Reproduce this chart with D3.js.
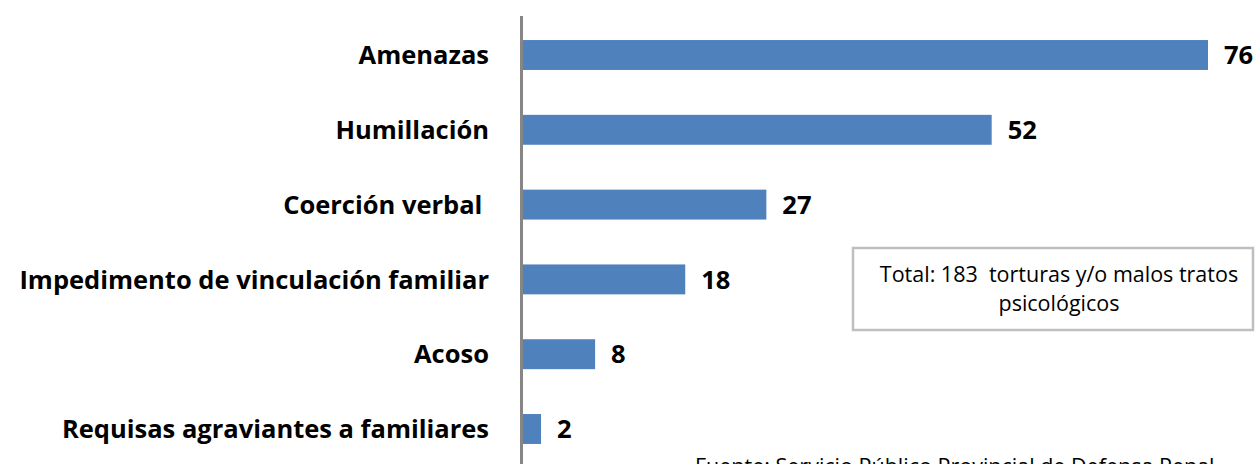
<!DOCTYPE html>
<html>
<head>
<meta charset="utf-8">
<script src="https://cdn.jsdelivr.net/npm/d3@7"></script>
<style>
  body { margin: 0; background: #fff; }
  svg { display: block; font-family: "Open Sans", Lato, sans-serif; }
</style>
</head>
<body>
<div id="chart"></div>
<script>
// data
const categories = ['Amenazas', 'Humillación', 'Coerción verbal ', 'Impedimento de vinculación familiar', 'Acoso', 'Requisas agraviantes a familiares'];
const values = [76, 52, 27, 18, 8, 2];
const totalLines = ['Total: 183  torturas y/o malos tratos', 'psicológicos'];
const sourceText = 'Fuente: Servicio Público Provincial de Defensa Penal';

const W = 1256, H = 464;
const axisX = 523;

const svg = d3.select('#chart').append('svg')
    .attr('width', W)
    .attr('height', H);

const x = d3.scaleLinear()
    .domain([0, 76])
    .range([axisX, 1208]);

const y = d3.scaleBand()
    .domain(categories)
    .range([17.6, 466.4])
    .paddingInner(0.6)
    .paddingOuter(0.3);

// bars
svg.selectAll('rect.bar')
    .data(values)
    .join('rect')
    .attr('class', 'bar')
    .attr('x', x(0))
    .attr('y', (d, i) => y(categories[i]))
    .attr('width', d => x(d) - x(0))
    .attr('height', y.bandwidth())
    .attr('fill', '#4F81BD');

// category labels
svg.selectAll('text.cat')
    .data(categories)
    .join('text')
    .attr('class', 'cat')
    .attr('x', 489)
    .attr('y', d => y(d) + y.bandwidth() / 2)
    .attr('dy', '0.36em')
    .attr('text-anchor', 'end')
    .attr('font-size', 25.5)
    .attr('font-weight', 'bold')
    .attr('fill', '#000')
    .style('white-space', 'pre')
    .text(d => d);

// value labels
svg.selectAll('text.val')
    .data(values)
    .join('text')
    .attr('class', 'val')
    .attr('x', d => x(d) + 16)
    .attr('y', (d, i) => y(categories[i]) + y.bandwidth() / 2)
    .attr('dy', '0.36em')
    .attr('font-size', 25.5)
    .attr('font-weight', 'bold')
    .attr('fill', '#000')
    .text(d => d);

// vertical axis line
svg.append('line')
    .attr('x1', axisX - 1.5).attr('x2', axisX - 1.5)
    .attr('y1', 16).attr('y2', H)
    .attr('stroke', '#868686')
    .attr('stroke-width', 3);

// total box
svg.append('rect')
    .attr('x', 853).attr('y', 248)
    .attr('width', 400).attr('height', 82)
    .attr('fill', '#fff')
    .attr('stroke', '#BFBFBF')
    .attr('stroke-width', 2.5);

svg.selectAll('text.total')
    .data(totalLines)
    .join('text')
    .attr('class', 'total')
    .attr('x', 1059)
    .attr('y', (d, i) => 282 + i * 28.5)
    .attr('text-anchor', 'middle')
    .attr('font-size', 21.5)
    .attr('fill', '#000')
    .style('white-space', 'pre')
    .text(d => d);

// source
svg.append('text')
    .attr('x', 695)
    .attr('y', 473.5)
    .attr('font-size', 21.5)
    .attr('fill', '#000')
    .text(sourceText);
</script>
</body>
</html>
